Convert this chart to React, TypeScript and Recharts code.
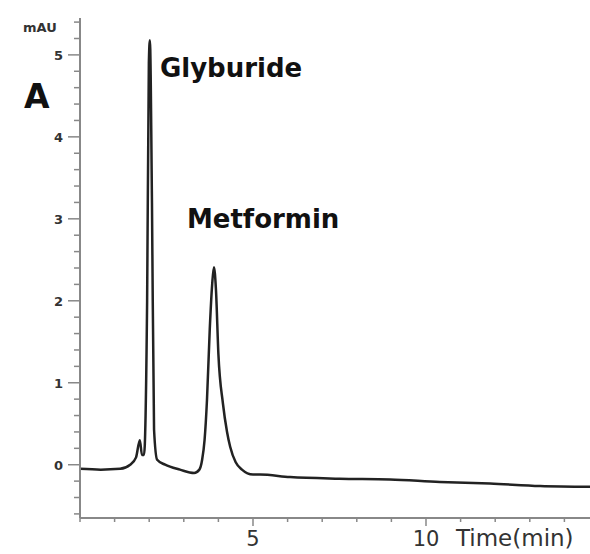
import { LineChart, Line, XAxis, YAxis, ReferenceDot } from 'recharts';

// retention time (min) and detector signal (mAU)
const times = [
  0, 0.6, 1.16, 1.45, 1.62, 1.73, 1.79, 1.85, 1.94, 1.99, 2.02, 2.08, 2.14, 2.23,
  2.46, 2.89, 3.3, 3.45, 3.53, 3.6, 3.67, 3.75, 3.82, 3.87, 3.93, 4.0, 4.13,
  4.25, 4.34, 4.5, 4.68, 5.0, 5.2, 6.07, 7.5, 8.96, 10.4, 11.85, 13.3, 14.74,
];
const signal = [
  -0.05, -0.06, -0.05, 0.0, 0.09, 0.3, 0.12, 0.12, 2.0, 4.9, 5.18, 3.2, 0.43, 0.06,
  0.0, -0.06, -0.1, -0.06, 0.06, 0.3, 0.79, 1.65, 2.2, 2.41, 2.13, 1.35, 0.75,
  0.4, 0.22, 0.03, -0.06, -0.12, -0.12, -0.15, -0.17, -0.18, -0.21, -0.23, -0.26, -0.27,
];

const xTicks = [0, 1, 2, 3, 4, 5, 6, 7, 8, 9, 10, 11, 12, 13, 14];
const xLabels = [5, 10];
const yTicks = [
  -0.6, -0.4, -0.2, 0, 0.2, 0.4, 0.6, 0.8, 1, 1.2, 1.4, 1.6, 1.8, 2, 2.2, 2.4, 2.6,
  2.8, 3, 3.2, 3.4, 3.6, 3.8, 4, 4.2, 4.4, 4.6, 4.8, 5, 5.2, 5.4,
];
const yLabels = [0, 1, 2, 3, 4, 5];

const peaks = [
  { name: 'Glyburide', t: 2.31, v: 4.73 },
  { name: 'Metformin', t: 3.09, v: 2.89 },
];

const data = times.map((t, i) => ({ t, v: signal[i] }));

const font = '"DejaVu Sans", Verdana, sans-serif';
const axisColor = '#888';

function XTick(props: any) {
  const { x, y, payload } = props;
  const major = xLabels.includes(payload.value);
  return (
    <g>
      <line x1={x} x2={x} y1={y} y2={y + (major ? 8 : 4)} stroke={axisColor} strokeWidth={1.5} />
      {major && (
        <text x={x} y={y + 28} textAnchor="middle" fontFamily={font} fontSize={21} fill="#333">
          {payload.value}
        </text>
      )}
      {payload.value === 10 && (
        <text x={x + 30} y={y + 28} textAnchor="start" fontFamily={font} fontSize={23} fill="#333">
          Time(min)
        </text>
      )}
    </g>
  );
}

function YTick(props: any) {
  const { x, y, payload } = props;
  const major = yLabels.includes(payload.value);
  return (
    <g>
      <line x1={major ? x - 12 : x - 6} x2={x} y1={y} y2={y} stroke={axisColor} strokeWidth={1.5} />
      {major && (
        <text x={x - 17} y={y + 5} textAnchor="end" fontFamily={font} fontSize={13} fontWeight="bold" fill="#333">
          {payload.value}
        </text>
      )}
    </g>
  );
}

function YTitle(props: any) {
  const { viewBox } = props;
  return (
    <g>
      <text x={viewBox.x + 23} y={viewBox.y + 14} fontFamily={font} fontSize={13} fontWeight="bold" fill="#333">
        mAU
      </text>
      <text x={viewBox.x + 24} y={viewBox.y + 90} fontFamily={font} fontSize={33} fontWeight="bold" fill="#111">
        A
      </text>
    </g>
  );
}

const peakLabel = (text: string) => (props: any) => {
  const { viewBox } = props;
  return (
    <text x={viewBox.x} y={viewBox.y} fontFamily={font} fontSize={26} fontWeight="bold" fill="#111">
      {text}
    </text>
  );
};

export default function App() {
  return (
    <div style={{ position: 'absolute', left: 0, top: 0, width: 590, height: 554, background: '#fff' }}>
      <LineChart width={590} height={554} data={data} margin={{ top: 18, right: 0, left: 0, bottom: 0 }}>
        <XAxis
          dataKey="t"
          type="number"
          domain={[0, 14.74]}
          ticks={xTicks}
          interval={0}
          height={36}
          tickSize={0}
          tickMargin={0}
          tickLine={false}
          tick={<XTick />}
          axisLine={{ stroke: axisColor, strokeWidth: 2 }}
          allowDataOverflow
        />
        <YAxis
          type="number"
          domain={[-0.65, 5.45]}
          ticks={yTicks}
          interval={0}
          width={80}
          tickSize={0}
          tickMargin={0}
          tickLine={false}
          tick={<YTick />}
          axisLine={{ stroke: axisColor, strokeWidth: 2 }}
          label={{ content: YTitle }}
          allowDataOverflow
        />
        <Line
          type="monotone"
          dataKey="v"
          stroke="#222"
          strokeWidth={2.5}
          dot={false}
          isAnimationActive={false}
        />
        {peaks.map((p) => (
          <ReferenceDot
            key={p.name}
            x={p.t}
            y={p.v}
            r={0}
            fill="none"
            stroke="none"
            label={{ content: peakLabel(p.name) }}
          />
        ))}
      </LineChart>
    </div>
  );
}
